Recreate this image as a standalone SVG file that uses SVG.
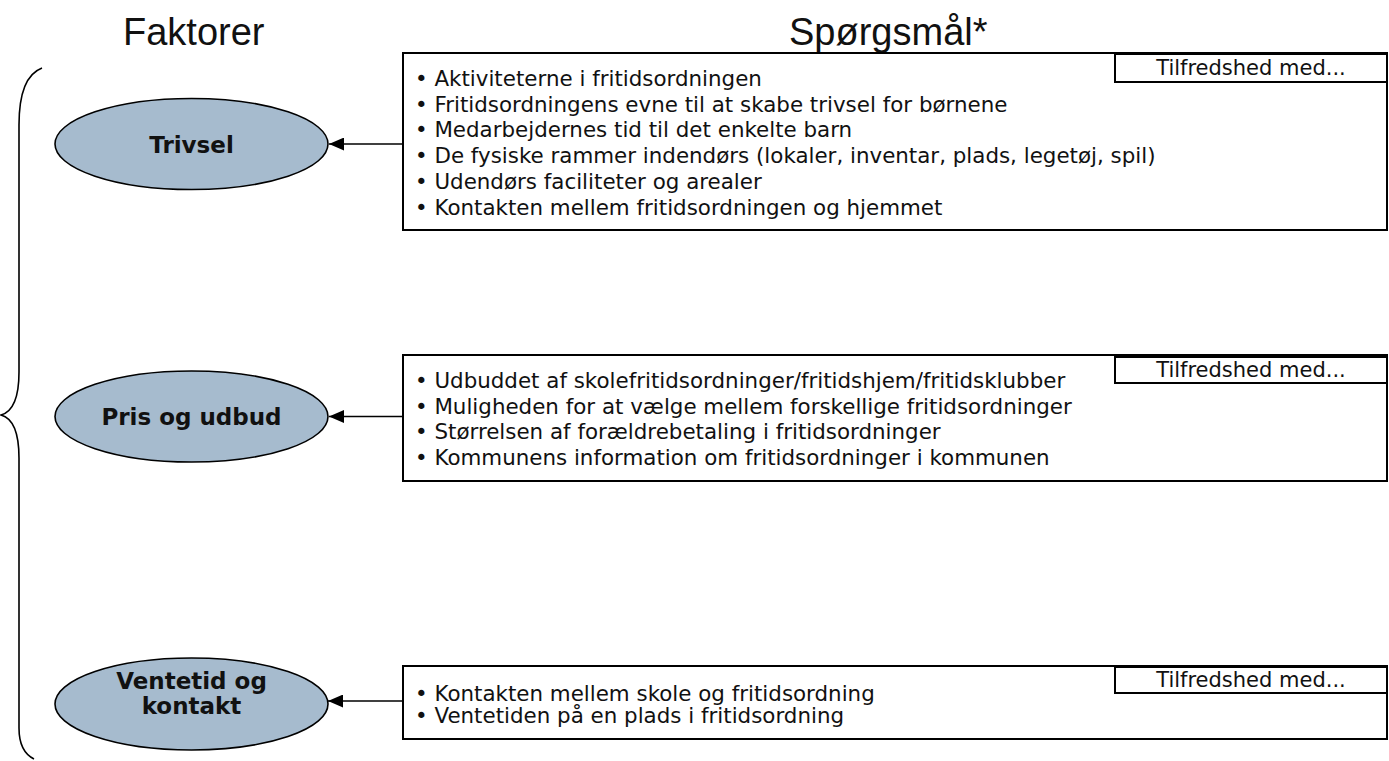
<svg xmlns="http://www.w3.org/2000/svg" width="1389" height="761" viewBox="0 0 1389 761">
<style>
.hdr{font-family:"Liberation Sans",Arial,sans-serif;font-size:38px;fill:#111}
.lbl{font-family:"DejaVu Sans",Verdana,sans-serif;font-size:23px;font-weight:bold;fill:#111;text-anchor:middle}
.itm{font-family:"DejaVu Sans",Verdana,sans-serif;font-size:21.4px;fill:#111}
.tag{font-family:"DejaVu Sans",Verdana,sans-serif;font-size:21px;fill:#111;text-anchor:middle}
.ell{fill:#A6BBCE;stroke:#000;stroke-width:1.6}
.box{fill:#fff;stroke:#000;stroke-width:2}
.con{stroke:#000;stroke-width:1.6;fill:none}
</style>
<defs>
<marker id="ah" markerWidth="15" markerHeight="13" refX="15" refY="6.5" orient="auto" markerUnits="userSpaceOnUse">
<path d="M0,0 L15,6.5 L0,13 Z" fill="#000"/>
</marker>
</defs>
<rect width="1389" height="761" fill="#fff"/>
<text class="hdr" x="123" y="45">Faktorer</text>
<text class="hdr" x="789" y="45">Spørgsmål*</text>
<path id="brace" d="M42 68 C26 74 19 95 19 125 L19 372 C19 400 12 412 1 415 C12 418 19 430 19 458 L19 728 C19 745 24 754 34 759" fill="none" stroke="#000" stroke-width="1.6"/>
<g id="connectors">
<line class="con" x1="403" y1="144" x2="329" y2="144" marker-end="url(#ah)"/>
<line class="con" x1="403" y1="416.5" x2="329" y2="416.5" marker-end="url(#ah)"/>
<line class="con" x1="403" y1="701" x2="328" y2="701" marker-end="url(#ah)"/>
</g>
<g id="trivsel">
<ellipse class="ell" cx="191.5" cy="144" rx="136.5" ry="45.5"/>
<text class="lbl" x="191.5" y="152.5">Trivsel</text>
</g>
<g id="pris">
<ellipse class="ell" cx="191.5" cy="416.5" rx="136.5" ry="45.5"/>
<text class="lbl" x="191.5" y="425">Pris og udbud</text>
</g>
<g id="ventetid">
<ellipse class="ell" cx="191.5" cy="704" rx="136.5" ry="46"/>
<text class="lbl" x="191.5" y="689">Ventetid og</text>
<text class="lbl" x="191.5" y="714">kontakt</text>
</g>
<g id="box1">
<rect class="box" x="403" y="53" width="984" height="177"/>
<rect class="box" x="1115" y="54" width="272" height="28"/>
<text class="tag" x="1251" y="75">Tilfredshed med...</text>
<text class="itm" x="415" y="86">• Aktiviteterne i fritidsordningen</text>
<text class="itm" x="415" y="111.7">• Fritidsordningens evne til at skabe trivsel for børnene</text>
<text class="itm" x="415" y="137.4">• Medarbejdernes tid til det enkelte barn</text>
<text class="itm" x="415" y="163.1">• De fysiske rammer indendørs (lokaler, inventar, plads, legetøj, spil)</text>
<text class="itm" x="415" y="188.8">• Udendørs faciliteter og arealer</text>
<text class="itm" x="415" y="214.5">• Kontakten mellem fritidsordningen og hjemmet</text>
</g>
<g id="box2">
<rect class="box" x="403" y="355" width="984" height="126"/>
<rect class="box" x="1115" y="357" width="272" height="26"/>
<text class="tag" x="1251" y="377">Tilfredshed med...</text>
<text class="itm" x="415" y="388">• Udbuddet af skolefritidsordninger/fritidshjem/fritidsklubber</text>
<text class="itm" x="415" y="413.5">• Muligheden for at vælge mellem forskellige fritidsordninger</text>
<text class="itm" x="415" y="439">• Størrelsen af forældrebetaling i fritidsordninger</text>
<text class="itm" x="415" y="464.5">• Kommunens information om fritidsordninger i kommunen</text>
</g>
<g id="box3">
<rect class="box" x="403" y="666" width="984" height="73"/>
<rect class="box" x="1115" y="667" width="272" height="26"/>
<text class="tag" x="1251" y="687">Tilfredshed med...</text>
<text class="itm" x="415" y="701">• Kontakten mellem skole og fritidsordning</text>
<text class="itm" x="415" y="723">• Ventetiden på en plads i fritidsordning</text>
</g>
</svg>
